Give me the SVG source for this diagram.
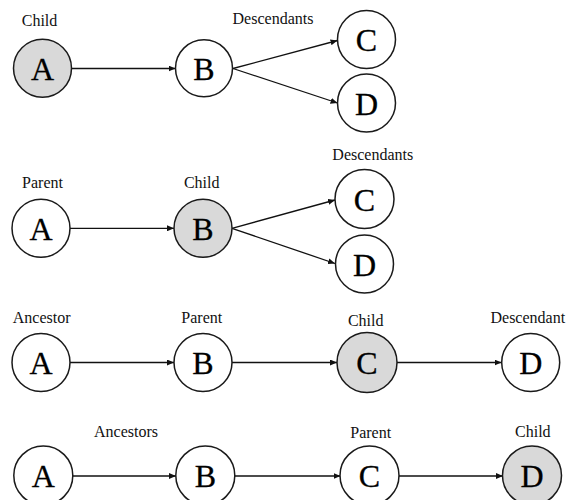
<svg xmlns="http://www.w3.org/2000/svg" width="568" height="500" viewBox="0 0 568 500">
  <style>
    .node { fill: #ffffff; stroke: #1a1a1a; stroke-width: 1.5; }
    .node.focus { fill: #d9d9d9; }
    .letter { font-family: "Liberation Serif", "Times New Roman", serif; font-size: 32px; fill: #000; stroke: #000; stroke-width: 0.3; text-anchor: middle; }
    .label { font-family: "Liberation Serif", "Times New Roman", serif; font-size: 16px; fill: #111; text-anchor: middle; }
    .edge { fill: none; stroke: #111; stroke-width: 1.3; marker-end: url(#arrow); }
  </style>
  <defs>
    <marker id="arrow" markerUnits="userSpaceOnUse" markerWidth="8" markerHeight="6" refX="7" refY="3" orient="auto">
      <path d="M0,0 L7,3 L0,6 z" fill="#111"/>
    </marker>
  </defs>
  <rect width="568" height="500" fill="#ffffff"/>

  <!-- labels -->
  <g id="labels">
    <text class="label" x="39.5" y="26">Child</text>
    <text class="label" x="273" y="23.5">Descendants</text>
    <text class="label" x="42.5" y="188">Parent</text>
    <text class="label" x="201.7" y="188">Child</text>
    <text class="label" x="372.8" y="160">Descendants</text>
    <text class="label" x="41.7" y="323">Ancestor</text>
    <text class="label" x="201.8" y="323">Parent</text>
    <text class="label" x="365.7" y="325.7">Child</text>
    <text class="label" x="527.8" y="323.3">Descendant</text>
    <text class="label" x="126" y="436.7">Ancestors</text>
    <text class="label" x="370.7" y="438">Parent</text>
    <text class="label" x="532.8" y="436.7">Child</text>
  </g>

  <!-- connectors -->
  <g id="connectors">
    <line class="edge" x1="71.5" y1="68.5" x2="175.5" y2="68.5"/>
    <path class="edge" d="M233,68.5 L337.5,40.5"/>
    <path class="edge" d="M233,68.5 L337.5,103"/>

    <line class="edge" x1="70" y1="228.3" x2="174" y2="228.3"/>
    <path class="edge" d="M232,228.3 L335,200"/>
    <path class="edge" d="M232,228.3 L335,263.5"/>

    <line class="edge" x1="70" y1="362.5" x2="174" y2="362.5"/>
    <line class="edge" x1="232" y1="362.5" x2="337" y2="362.5"/>
    <line class="edge" x1="397" y1="362.5" x2="501.5" y2="362.5"/>

    <line class="edge" x1="72.5" y1="476" x2="176" y2="476"/>
    <line class="edge" x1="234.5" y1="476" x2="340.5" y2="476"/>
    <line class="edge" x1="398.5" y1="476" x2="503" y2="476"/>
  </g>

  <!-- row 1 -->
  <g id="r1-A"><circle class="node focus" cx="42.5" cy="68.3" r="29"/><text class="letter" x="42.5" y="79.8">A</text></g>
  <g id="r1-B"><circle class="node" cx="204" cy="68.3" r="28.5"/><text class="letter" x="204" y="79.8">B</text></g>
  <g id="r1-C"><circle class="node" cx="366.5" cy="39.5" r="29"/><text class="letter" x="366.5" y="51">C</text></g>
  <g id="r1-D"><circle class="node" cx="366.5" cy="103" r="29"/><text class="letter" x="366.5" y="114.5">D</text></g>

  <!-- row 2 -->
  <g id="r2-A"><circle class="node" cx="41" cy="228.3" r="29"/><text class="letter" x="41" y="239.8">A</text></g>
  <g id="r2-B"><circle class="node focus" cx="203" cy="228.3" r="29"/><text class="letter" x="203" y="239.8">B</text></g>
  <g id="r2-C"><circle class="node" cx="364.5" cy="199" r="29.5"/><text class="letter" x="364.5" y="210.5">C</text></g>
  <g id="r2-D"><circle class="node" cx="364.5" cy="264" r="29"/><text class="letter" x="364.5" y="275.5">D</text></g>

  <!-- row 3 -->
  <g id="r3-A"><circle class="node" cx="41" cy="362.5" r="29"/><text class="letter" x="41" y="374">A</text></g>
  <g id="r3-B"><circle class="node" cx="203" cy="362.5" r="29"/><text class="letter" x="203" y="374">B</text></g>
  <g id="r3-C"><circle class="node focus" cx="367" cy="362.5" r="30"/><text class="letter" x="367" y="374">C</text></g>
  <g id="r3-D"><circle class="node" cx="530.7" cy="362.5" r="29"/><text class="letter" x="530.7" y="374">D</text></g>

  <!-- row 4 -->
  <g id="r4-A"><circle class="node" cx="43.3" cy="475.5" r="29.5"/><text class="letter" x="43.3" y="487">A</text></g>
  <g id="r4-B"><circle class="node" cx="205.3" cy="475.5" r="29.5"/><text class="letter" x="205.3" y="487">B</text></g>
  <g id="r4-C"><circle class="node" cx="369.5" cy="475.5" r="29.5"/><text class="letter" x="369.5" y="487">C</text></g>
  <g id="r4-D"><circle class="node focus" cx="532" cy="475.5" r="29.5"/><text class="letter" x="532" y="487">D</text></g>
</svg>
